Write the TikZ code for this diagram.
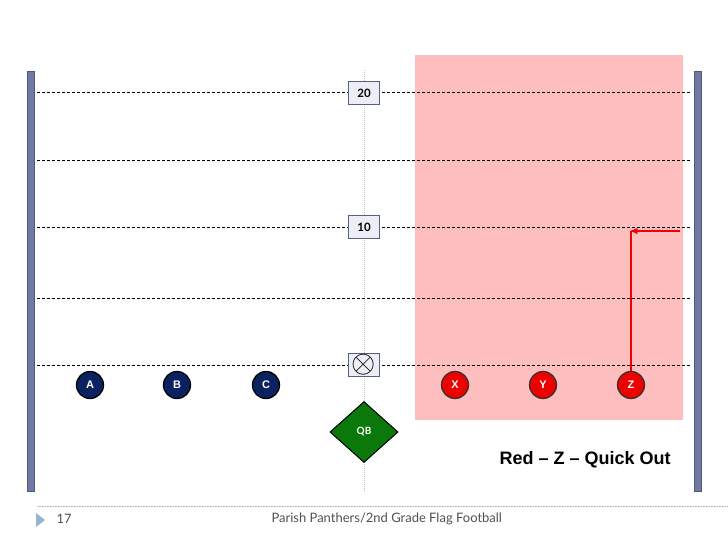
\documentclass[tikz,border=0pt]{standalone}
\usepackage{fontspec}
\setmainfont{Liberation Sans}
\newfontfamily\gillfont{Lato}
\usetikzlibrary{arrows,shapes.geometric}
\usetikzlibrary{positioning}
\definecolor{barblue}{RGB}{112,122,162}
\definecolor{baredge}{RGB}{80,88,125}
\definecolor{boxfill}{RGB}{236,238,246}
\definecolor{boxedge}{RGB}{88,94,128}
\definecolor{zonepink}{RGB}{255,190,190}
\definecolor{navy}{RGB}{12,34,96}
\definecolor{playred}{RGB}{236,0,0}
\definecolor{fieldgreen}{RGB}{10,120,10}
\definecolor{footblue}{RGB}{150,180,205}
\definecolor{footgray}{RGB}{80,80,80}
\tikzset{
    font={\fontsize{8pt}{8}\selectfont},
    yardbox/.style={
           rectangle,
           draw=boxedge, line width=1.5pt,
           fill=boxfill,
           minimum width=31pt, minimum height=23pt,
           inner sep=0pt,
           font=\gillfont\bfseries\fontsize{11.5pt}{11}\selectfont,
           },
    player/.style={
           circle,
           draw=black, line width=1.3pt,
           minimum size=27pt,
           inner sep=0pt,
           text=white,
           font=\bfseries\fontsize{11pt}{11}\selectfont,
           },
    offense/.style={player, fill=navy},
    receiver/.style={player, fill=playred, draw=black!80},
    yardline/.style={dash pattern=on 3pt off 2pt, line width=0.8pt},
    route/.style={draw=playred, line width=1.3pt},
}

\begin{document}
\begin{tikzpicture}[x=1pt,y=-1pt,->,>=stealth']
\useasboundingbox (0,0) rectangle (728,546);

% zone for the play
\fill[zonepink] (415,55) rectangle (683,420);

% sidelines
\draw[-,fill=barblue,draw=baredge,line width=0.8pt] (27,71) rectangle (34,491);
\draw[-,fill=barblue,draw=baredge,line width=0.8pt] (694,71) rectangle (701,491);

% center line and yard lines
\draw[-,densely dotted,black!25,line width=1pt] (364,70) -- (364,492);
\foreach \yy in {92,160,227,298,365}
  \draw[-,yardline] (37,\yy) -- (690,\yy);

% yard markers
\node[yardbox] (TWENTY) at (364,93) {20};
\node[yardbox, below of=TWENTY, node distance=134pt] (TEN) {10};
\node[yardbox, below of=TEN, node distance=138pt] (BALL) {\scalebox{2.6}{$\otimes$}};

% quarterback
\node[diamond, below of=BALL, node distance=67pt,
draw=black, line width=1pt, fill=fieldgreen,
minimum width=68pt, minimum height=61pt, inner sep=0pt,
text=white, font=\gillfont\bfseries\fontsize{10pt}{10}\selectfont] (QB) {QB};

% players
\node[offense] (A) at (90,385) {A};
\node[offense, right of=A, node distance=87pt] (B) {B};
\node[offense, right of=B, node distance=89pt] (C) {C};
\node[receiver] (X) at (455,385) {X};
\node[receiver, right of=X, node distance=88pt] (Y) {Y};
\node[receiver, right of=Y, node distance=88pt] (Z) {Z};

% route for Z
\coordinate (TURN) at (631,231);
\coordinate (ROUTEEND) at (680,231);
\draw[-,route] (Z) -- (TURN);
\draw[route] (ROUTEEND) -- (TURN);

\node[anchor=west, font=\bfseries\fontsize{18pt}{18}\selectfont] (PLAYNAME) at (496,460) {Red – Z – Quick Out};

% footer
\draw[-,densely dotted,footblue,line width=0.6pt] (37,506) -- (728,506);
\fill[footblue] (36,513) -- (45,520) -- (36,527) -- cycle;
\node[anchor=west, text=footgray, font=\gillfont\fontsize{13pt}{13}\selectfont] (PAGENUM) at (53,519) {17};
\node[anchor=west, text=footgray, font=\gillfont\fontsize{13pt}{13}\selectfont] (FOOTTITLE) at (268,519) {Parish Panthers/2nd Grade Flag Football};

\end{tikzpicture}
\end{document}
